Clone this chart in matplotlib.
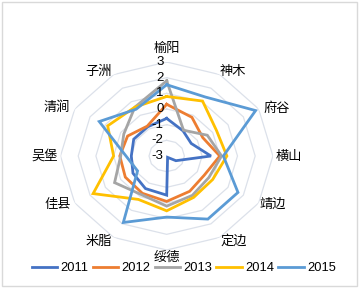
import numpy as np
import matplotlib
matplotlib.use("Agg")
import matplotlib.pyplot as plt
from matplotlib.lines import Line2D
from matplotlib.patches import Rectangle

categories = ["榆阳", "神木", "府谷", "横山", "靖边", "定边", "绥德", "米脂", "佳县", "吴堡", "清涧", "子洲"]
years = ["2011", "2012", "2013", "2014", "2015"]
v2011 = [-0.6, -1.15, -1.4, -0.5, -2.4, -2.9, -0.5, -0.6, -0.8, -1.0, -0.85, -0.85]
v2012 = [0.3, -0.15, -0.65, 0.0, -0.55, -0.4, -0.1, -0.25, -0.3, -0.35, -0.45, -0.8]
v2013 = [1.8, -1.1, -0.35, 0.1, -0.25, -0.1, 0.2, -0.15, 0.4, -0.4, -0.2, 0.6]
v2014 = [0.8, 1.05, 0.25, 0.4, 0.0, 0.05, 0.5, 0.2, 1.8, 0.0, 0.85, 0.6]
v2015 = [1.55, 1.35, 2.8, 0.2, 1.65, 1.65, 0.9, 1.9, -1.1, -0.7, 1.4, 0.45]
series = [v2011, v2012, v2013, v2014, v2015]
colors = ["#4472C4", "#ED7D31", "#A5A5A5", "#FFC000", "#5B9BD5"]
rticks = [-3, -2, -1, 0, 1, 2, 3]

W, H = 359, 288
fig = plt.figure(figsize=(W / 100, H / 100), dpi=100)
fig.patches.append(Rectangle((2 / W, 2 / H), (W - 4) / W, (H - 4) / H, transform=fig.transFigure,
                             fill=False, edgecolor="#D9D9D9", lw=1.0))

cx, cy, Rv, Rh = 166.7, 156.0, 94.0, 106.2
ax = fig.add_axes([(cx - Rh) / W, (H - cy - Rv) / H, 2 * Rh / W, 2 * Rv / H], projection="polar")
ax.set_aspect("auto")
ax.set_theta_zero_location("N")
ax.set_theta_direction(-1)
ax.set_ylim(-3, 3)
ax.grid(False)
ax.spines["polar"].set_visible(False)
ax.set_xticks([])
ax.set_yticks([])
ax.patch.set_alpha(0)

n = len(categories)
theta = np.arange(n) * 2 * np.pi / n
theta_c = np.append(theta, theta[0])

for v in rticks[1:]:
    ax.plot(theta_c, [v] * (n + 1), color="#DCE1EA", lw=0.9, zorder=1)

for vals, col in zip(series, colors):
    ax.plot(theta_c, vals + vals[:1], color=col, lw=2.0, zorder=3, solid_joinstyle="miter")

num_font = ["Liberation Sans", "DejaVu Sans"]
cjk_font = ["Noto Sans CJK SC", "DejaVu Sans"]

for v in rticks:
    ax.annotate(str(v), xy=(0, v), xytext=(-3, 0), textcoords="offset pixels",
                ha="right", va="center", fontsize=9.5, family=num_font, zorder=5)

label_offsets = [(0, 14), (13.5, 3), (18, 1), (16.5, 0), (14.5, -1), (13.5, -4),
                 (0, -7), (-14.5, -4), (-17.5, -1), (-15.5, 0), (-17.5, 1), (-14.5, 3)]
for t, lab, off in zip(theta, categories, label_offsets):
    ax.annotate(lab, xy=(t, 3), xytext=off, textcoords="offset pixels",
                ha="center", va="center", fontsize=9.5, family=cjk_font, zorder=5,
                annotation_clip=False)

handles = [Line2D([], [], color=c, lw=2.0) for c in colors]
leg = fig.legend(handles, years, loc="center", bbox_to_anchor=(0.5125, 1 - 268 / H), ncol=5,
                 frameon=False, handlelength=1.95, handletextpad=0.3, columnspacing=0.3,
                 prop={"family": num_font, "size": 9.3})

fig.savefig("out.png", dpi=100)
